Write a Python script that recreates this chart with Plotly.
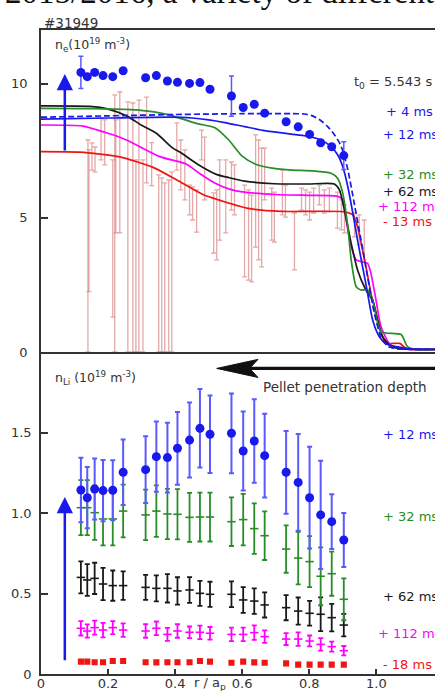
import plotly.graph_objects as go

# ---------------- data ----------------
# radial positions of the measured points (r / a_p)
r_pts = [0.119, 0.138, 0.160, 0.185, 0.214, 0.245, 0.312, 0.344, 0.377, 0.407, 0.443, 0.474, 0.504,
         0.568, 0.603, 0.636, 0.667, 0.731, 0.767, 0.801, 0.834, 0.867, 0.903]

# upper panel: measured n_e points (blue dots)
ne_dots = [10.42, 10.26, 10.42, 10.30, 10.26, 10.48, 10.22, 10.30, 10.10, 10.05, 10.01, 10.04, 9.79,
           9.54, 9.11, 9.23, 8.90, 8.58, 8.39, 8.11, 7.80, 7.65, 7.32]
ne_dots_err = [0.60, 0, 0, 0, 0, 0, 0, 0, 0, 0, 0, 0, 0,
               0.75, 0, 0, 0, 0, 0, 0, 0, 0, 0.52]

# upper panel: faint measured profile with large error bars (top / bottom of each bar)
pink_r = [0.140, 0.143, 0.152, 0.161, 0.179, 0.190, 0.214, 0.220, 0.223, 0.235, 0.259, 0.274, 0.283, 0.292,
          0.304, 0.315, 0.330, 0.351, 0.360, 0.369, 0.381, 0.390, 0.405, 0.417, 0.429, 0.443, 0.452,
          0.464, 0.479, 0.488, 0.515, 0.524, 0.533, 0.551, 0.568, 0.577, 0.607, 0.619, 0.628, 0.640,
          0.649, 0.658, 0.667, 0.688, 0.696, 0.720, 0.729, 0.756, 0.777, 0.789, 0.801, 0.813, 0.830,
          0.845, 0.860, 0.884, 0.896, 0.905, 0.935, 0.949, 0.964]
pink_top = [7.90, 7.53, 7.79, 7.64, 8.72, 8.65, 7.16, 9.58, 8.65, 9.69, 9.32, 9.28, 7.16, 9.39,
            7.16, 9.50, 7.80, 6.60, 6.49, 6.30, 6.41, 6.71, 8.54, 7.90, 7.53, 6.22, 6.15,
            6.04, 8.27, 8.01, 5.93, 6.04, 7.16, 7.16, 7.08, 6.97, 6.22, 6.04, 5.85, 8.09,
            7.90, 7.60, 7.60, 6.11, 5.96, 6.78, 6.22, 5.18, 6.11, 6.04, 5.96, 6.11, 6.22,
            6.04, 6.11, 5.96, 5.67, 5.48, 5.18, 5.11, 4.92]
pink_bot = [0.00, 2.25, 6.78, 6.71, 7.16, 6.97, 1.30, 0.00, 4.44, 4.44, 0.00, 0.00, 0.00, 0.00,
            0.00, 6.30, 6.20, 0.00, 0.00, 0.00, 0.00, 0.00, 6.78, 6.04, 5.67, 5.11, 4.92,
            4.47, 7.16, 5.67, 3.69, 3.43, 4.17, 4.44, 5.29, 5.11, 2.80, 2.68, 2.61, 3.91,
            3.43, 3.17, 5.67, 4.17, 4.10, 5.11, 5.03, 3.06, 5.29, 5.11, 4.92, 5.18, 5.48,
            5.18, 5.22, 4.62, 4.55, 4.44, 4.29, 3.99, 3.43]

# upper panel: modelled n_e profiles
r_4 = [0, 0.2, 0.4, 0.6, 0.75, 0.786, 0.81, 0.835, 0.855, 0.875, 0.89, 0.9, 0.915, 0.934, 0.954,
       0.974, 0.994, 1.014, 1.035, 1.06, 1.1, 1.18]
ne_4 = [8.75, 8.80, 8.85, 8.88, 8.88, 8.87, 8.80, 8.62, 8.40, 8.10, 7.80, 7.50, 6.80, 5.55, 4.20,
        2.80, 1.45, 0.55, 0.20, 0.12, 0.10, 0.10]

r_12 = [0, 0.2, 0.384, 0.45, 0.5, 0.548, 0.607, 0.667, 0.746, 0.79, 0.835, 0.865, 0.885, 0.9, 0.915,
        0.93, 0.944, 0.959, 0.974, 0.989, 1.009, 1.03, 1.06, 1.1, 1.18]
ne_12 = [8.68, 8.72, 8.75, 8.72, 8.65, 8.55, 8.40, 8.25, 8.12, 8.05, 7.90, 7.65, 7.34, 6.90, 6.16,
         5.17, 4.17, 3.18, 2.19, 1.19, 0.57, 0.30, 0.20, 0.12, 0.10]

r_32 = [0, 0.15, 0.285, 0.384, 0.463, 0.52, 0.56, 0.60, 0.64, 0.69, 0.75, 0.81, 0.865, 0.885, 0.9,
        0.915, 0.925, 0.94, 0.954, 0.974, 0.989, 1.004, 1.014, 1.034, 1.074, 1.093, 1.12, 1.18]
ne_32 = [9.08, 9.07, 9.02, 8.83, 8.52, 8.35, 7.90, 7.30, 7.00, 6.85, 6.78, 6.75, 6.66, 6.47, 5.91,
         4.67, 3.43, 2.43, 2.31, 2.31, 1.94, 1.07, 0.75, 0.70, 0.65, 0.20, 0.10, 0.10]

r_62 = [0, 0.146, 0.2, 0.255, 0.3, 0.344, 0.393, 0.414, 0.473, 0.523, 0.56, 0.607, 0.696, 0.796,
        0.875, 0.89, 0.905, 0.925, 0.944, 0.969, 0.989, 1.004, 1.019, 1.04, 1.07, 1.18]
ne_62 = [9.17, 9.15, 9.05, 8.80, 8.45, 8.15, 7.60, 7.45, 6.95, 6.62, 6.50, 6.37, 6.27, 6.26,
         6.26, 6.04, 5.29, 4.05, 3.06, 2.31, 1.94, 1.19, 0.57, 0.25, 0.12, 0.10]

r_112 = [0, 0.125, 0.2, 0.255, 0.354, 0.434, 0.473, 0.518, 0.56, 0.6, 0.7, 0.8, 0.875, 0.89, 0.9,
         0.91, 0.925, 0.94, 0.954, 0.974, 0.984, 0.999, 1.014, 1.04, 1.07, 1.18]
ne_112 = [8.46, 8.42, 8.15, 7.90, 7.28, 7.00, 6.65, 6.30, 6.08, 5.97, 5.87, 5.84, 5.82, 5.78, 5.67,
          4.92, 3.93, 3.43, 3.37, 3.30, 2.93, 1.94, 0.94, 0.30, 0.12, 0.10]

r_m13 = [0, 0.116, 0.235, 0.334, 0.404, 0.483, 0.5625, 0.617, 0.716, 0.9, 0.93, 0.944, 0.959, 0.969,
         0.984, 0.999, 1.014, 1.03, 1.07, 1.09, 1.18]
ne_m13 = [7.47, 7.45, 7.27, 6.88, 6.42, 5.87, 5.54, 5.35, 5.24, 5.23, 5.11, 4.67, 3.80, 3.18,
          2.19, 1.44, 0.70, 0.33, 0.32, 0.12, 0.10]

# lower panel: n_Li at several times
nli_12 = [1.143, 1.095, 1.149, 1.139, 1.141, 1.253, 1.269, 1.350, 1.344, 1.402, 1.453, 1.526, 1.489,
          1.495, 1.385, 1.447, 1.356, 1.253, 1.190, 1.095, 0.988, 0.946, 0.832]
nli_12_err = [0.200, 0.190, 0.190, 0.190, 0.186, 0.204, 0.207, 0.218, 0.217, 0.226, 0.233, 0.244, 0.241,
              0.248, 0.246, 0.259, 0.260, 0.257, 0.300, 0.316, 0.336, 0.170, 0.168]
nli_32 = [1.033, 1.033, 1.002, 0.963, 0.963, 1.012, 0.988, 1.012, 0.994, 0.992, 0.973, 0.975, 0.975,
          0.946, 0.959, 0.903, 0.859, 0.776, 0.720, 0.698, 0.607, 0.623, 0.464]
nli_32_err = [0.171, 0.171, 0.169, 0.164, 0.164, 0.164, 0.157, 0.160, 0.156, 0.156, 0.152, 0.152, 0.152,
              0.151, 0.160, 0.157, 0.151, 0.147, 0.163, 0.158, 0.180, 0.137, 0.130]
nli_62 = [0.600, 0.584, 0.594, 0.559, 0.549, 0.549, 0.538, 0.532, 0.532, 0.516, 0.522, 0.501, 0.495,
          0.495, 0.460, 0.453, 0.429, 0.412, 0.391, 0.377, 0.371, 0.350, 0.304]
nli_62_err = [0.099, 0.099, 0.097, 0.100, 0.094, 0.088, 0.078, 0.081, 0.088, 0.085, 0.080, 0.078, 0.078,
              0.080, 0.080, 0.079, 0.078, 0.078, 0.084, 0.077, 0.105, 0.085, 0.070]
nli_112 = [0.284, 0.267, 0.288, 0.273, 0.288, 0.273, 0.267, 0.284, 0.246, 0.267, 0.259, 0.259, 0.253,
           0.246, 0.246, 0.257, 0.232, 0.217, 0.217, 0.205, 0.184, 0.170, 0.145]
nli_112_err = [0.045, 0.041, 0.044, 0.045, 0.040, 0.042, 0.042, 0.042, 0.040, 0.042, 0.036, 0.042, 0.039,
               0.042, 0.042, 0.045, 0.039, 0.037, 0.042, 0.034, 0.039, 0.031, 0.029]
nli_m18 = [0.077, 0.077, 0.073, 0.073, 0.081, 0.081, 0.073, 0.072, 0.073, 0.073, 0.073, 0.081, 0.077,
           0.070, 0.077, 0.072, 0.070, 0.066, 0.058, 0.058, 0.058, 0.058, 0.058]

x_tickvals = [0, 0.2, 0.4, 0.6, 0.8, 1.0]
x_ticktext = ["0", "0.2", "0.4", "0.6", "0.8", "1.0"]
y_top_tickvals = [0, 5, 10]
y_bot_tickvals = [0, 0.5, 1.0, 1.5]
y_bot_ticktext = ["0", "0.5", "1.0", "1.5"]

# ---------------- styling ----------------
BLUE = "rgb(25,25,235)"
BLUE_ERR = "rgb(90,90,255)"
GREEN = "rgb(40,140,40)"
BLACK = "rgb(25,25,25)"
MAGENTA = "rgb(255,0,255)"
RED = "rgb(240,20,20)"
PINK = "rgba(210,110,110,0.6)"
AX = "#333333"
FONT = "DejaVu Sans"

fig = go.Figure()

# faint measured profile (pink error bars)
pink_c = [(t + b) / 2 for t, b in zip(pink_top, pink_bot)]
pink_e = [(t - b) / 2 for t, b in zip(pink_top, pink_bot)]
fig.add_trace(go.Scatter(x=pink_r, y=pink_c, mode="markers", xaxis="x2", yaxis="y2",
                         marker=dict(size=1, color="rgba(0,0,0,0)"),
                         error_y=dict(type="data", array=pink_e, color=PINK, thickness=1.3, width=2.5)))

# model curves
curves = [
    (r_m13, ne_m13, RED, "solid"),
    (r_112, ne_112, MAGENTA, "solid"),
    (r_62, ne_62, BLACK, "solid"),
    (r_32, ne_32, GREEN, "solid"),
    (r_12, ne_12, BLUE, "solid"),
    (r_4, ne_4, BLUE, "dash"),
]
for rr, nn, col, dash in curves:
    fig.add_trace(go.Scatter(x=rr, y=nn, mode="lines", xaxis="x2", yaxis="y2",
                             line=dict(color=col, width=1.7, dash=dash if dash == "solid" else "6px,3px",
                                       shape="spline", smoothing=0.6)))

# blue dots (upper panel)
fig.add_trace(go.Scatter(x=r_pts, y=ne_dots, mode="markers", xaxis="x2", yaxis="y2",
                         marker=dict(size=9, color=BLUE),
                         error_y=dict(type="data", array=ne_dots_err, color=BLUE_ERR, thickness=1.5, width=2.5)))

# lower panel series
lower = [
    (nli_m18, None, RED, "square", 4.5),
    (nli_112, nli_112_err, MAGENTA, "line-ew", 6),
    (nli_62, nli_62_err, BLACK, "line-ew", 6),
    (nli_32, nli_32_err, GREEN, "line-ew", 6),
]
for vals, errs, col, sym, sz in lower:
    marker = dict(symbol=sym, size=sz, color=col, line=dict(color=col, width=1.6))
    err = dict(type="data", array=errs, color=col, thickness=1.8, width=2.5) if errs else None
    fig.add_trace(go.Scatter(x=r_pts, y=vals, mode="markers", xaxis="x", yaxis="y",
                             marker=marker, error_y=err))
fig.add_trace(go.Scatter(x=r_pts, y=nli_12, mode="markers", xaxis="x", yaxis="y",
                         marker=dict(size=9, color=BLUE),
                         error_y=dict(type="data", array=nli_12_err, color=BLUE_ERR, thickness=2, width=2.5)))

# ---------------- annotations ----------------
ann = []
def txt(x, y, s, color=AX, size=13, xref="x2", yref="y2", xanchor="left", yanchor="middle", family=FONT):
    ann.append(dict(x=x, y=y, xref=xref, yref=yref, text=s, showarrow=False, xanchor=xanchor,
                    yanchor=yanchor, font=dict(family=family, size=size, color=color)))

# clipped caption text above the figure
txt(0.454, 1.059, "2015/2016, a variety of different", color="#111", size=33,
    xref="paper", yref="paper", xanchor="center", family="Liberation Serif")
txt(0.003, 1.011, "#31949", size=13.5, xref="paper", yref="paper")
txt(0.036, 11.44, "n<sub>e</sub>(10<sup>19</sup> m<sup>-3</sup>)", size=12.5)
txt(0.926, 10.06, "t<sub>0</sub> = 5.543 s", size=13)
txt(1.024, 8.98, "+ 4 ms", color=BLUE)
txt(1.015, 8.09, "+ 12 ms", color=BLUE)
txt(1.015, 6.63, "+ 32 ms", color=GREEN)
txt(1.015, 5.97, "+ 62 ms", color=BLACK)
txt(1.000, 5.42, "+ 112 ms", color=MAGENTA)
txt(1.015, 4.86, "- 13 ms", color=RED)

txt(0.036, 1.84, "n<sub>Li</sub> (10<sup>19</sup> m<sup>-3</sup>)", size=12.5, xref="x", yref="y")
txt(0.908, 1.785, "Pellet penetration depth", size=13.5, xref="x", yref="y", xanchor="center")
txt(1.015, 1.49, "+ 12 ms", color=BLUE, xref="x", yref="y")
txt(1.015, 0.977, "+ 32 ms", color=GREEN, xref="x", yref="y")
txt(1.015, 0.484, "+ 62 ms", color=BLACK, xref="x", yref="y")
txt(1.000, 0.253, "+ 112 ms", color=MAGENTA, xref="x", yref="y")
txt(1.015, 0.062, "- 18 ms", color=RED, xref="x", yref="y")
txt(0.503, -0.015, "r / a<sub>p</sub>", size=13, xref="x", yref="paper", xanchor="center")

# blue arrows
ARROW_R = 0.071
ann.append(dict(x=ARROW_R, y=10.36, ax=ARROW_R, ay=7.45, xref="x2", yref="y2", axref="x2", ayref="y2",
                showarrow=True, arrowhead=2, arrowwidth=2.5, arrowsize=1.3, arrowcolor=BLUE, text=""))
ann.append(dict(x=ARROW_R, y=1.10, ax=ARROW_R, ay=0.076, xref="x", yref="y", axref="x", ayref="y",
                showarrow=True, arrowhead=2, arrowwidth=2.5, arrowsize=1.3, arrowcolor=BLUE, text=""))

# black "pellet penetration depth" arrow
P_TIP_R, P_Y = 0.524, 1.898
P_HEAD_LEN, P_HALF, P_NOTCH = 0.123, 0.056, 0.098
shapes = [
    dict(type="line", xref="x", yref="y", x0=P_TIP_R + P_NOTCH - 0.01, x1=1.25, y0=P_Y, y1=P_Y,
         line=dict(color="#111", width=3.2)),
    dict(type="path", xref="x", yref="y",
         path=(f"M {P_TIP_R},{P_Y} L {P_TIP_R + P_HEAD_LEN},{P_Y + P_HALF} "
               f"L {P_TIP_R + P_NOTCH},{P_Y} L {P_TIP_R + P_HEAD_LEN},{P_Y - P_HALF} Z"),
         fillcolor="#111", line=dict(color="#111", width=1)),
]

axis_common = dict(showgrid=False, zeroline=False, showline=True, linecolor=AX, linewidth=1.6,
                   tickcolor=AX, tickwidth=1.5, ticks="inside", automargin=False,
                   tickfont=dict(family=FONT, size=13, color=AX))

fig.update_layout(
    width=435, height=691,
    margin=dict(l=41, r=0, t=30, b=17, autoexpand=False),
    paper_bgcolor="white", plot_bgcolor="white",
    showlegend=False,
    font=dict(family=FONT, size=13, color=AX),
    xaxis=dict(domain=[0, 1], range=[0, 1.175], anchor="y", ticklen=5,
               tickvals=x_tickvals, ticktext=x_ticktext, ticklabelstandoff=-3, **axis_common),
    yaxis=dict(domain=[0, 0.5], range=[0, 2.0], anchor="x", ticklen=7,
               tickvals=y_bot_tickvals, ticktext=y_bot_ticktext, ticklabelstandoff=5, **axis_common),
    xaxis2=dict(domain=[0, 1], range=[0, 1.175], anchor="y2", matches="x", mirror=True,
                showticklabels=False, **{**axis_common, "ticks": ""}),
    yaxis2=dict(domain=[0.5, 1], range=[0, 12], anchor="x2", ticklen=7,
                tickvals=y_top_tickvals, ticklabelstandoff=9, **axis_common),
    annotations=ann,
    shapes=shapes,
)

fig.write_html("out.html",
               config={"displayModeBar": False},
               post_script="document.body.style.margin='0';document.body.style.padding='0';"
                           "document.body.style.overflow='hidden';")
